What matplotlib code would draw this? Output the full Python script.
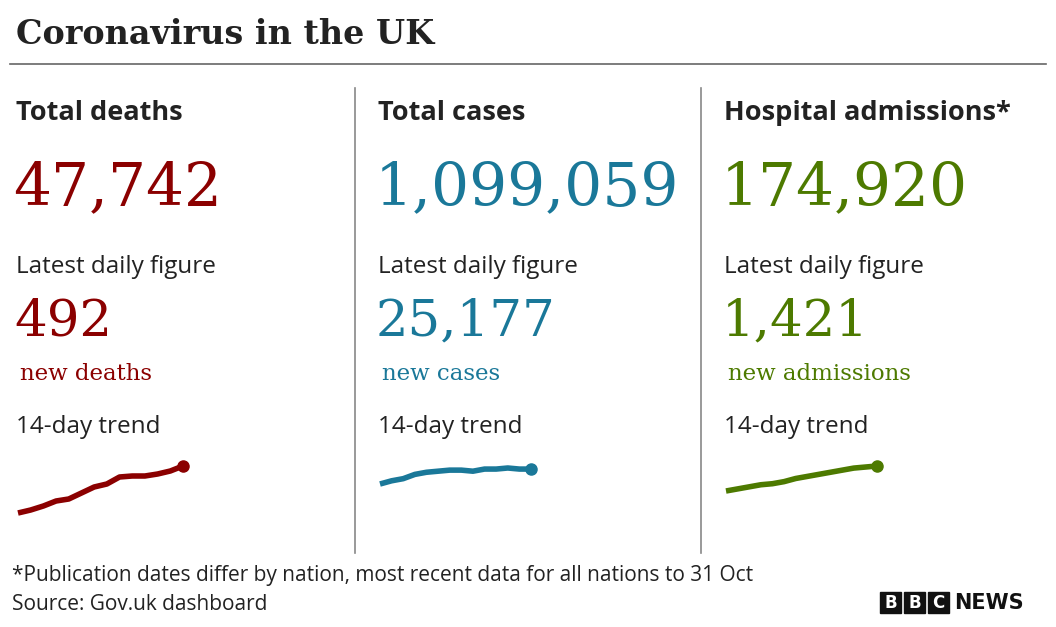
import matplotlib
matplotlib.use("Agg")
import matplotlib.pyplot as plt
from matplotlib.patches import Rectangle

W, H = 1056, 627
sections = ["Total deaths", "Total cases", "Hospital admissions*"]
totals = ["47,742", "1,099,059", "174,920"]
daily = ["492", "25,177", "1,421"]
daily_labels = ["new deaths", "new cases", "new admissions"]
colors = ["#8b0000", "#1a7899", "#4d7a00"]
trend_deaths = [0, 3, 7, 12, 14, 20, 26, 29, 36, 37, 37, 39, 42, 47]
trend_cases = [0, 3, 5, 9, 11, 12, 13, 13, 12, 14, 14, 15, 14, 14]
trend_hosp = [0, 2, 4, 6, 7, 9, 12, 14, 16, 18, 20, 22, 23, 24]
trends = [trend_deaths, trend_cases, trend_hosp]

fig = plt.figure(figsize=(W / 100, H / 100), dpi=100)
ax = fig.add_axes([0, 0, 1, 1])
ax.set_xlim(0, W); ax.set_ylim(H, 0); ax.axis("off")

sans = "Open Sans"
serif = "DejaVu Serif"
ax.text(16, 34, "Coronavirus in the UK", fontsize=24, family=serif, weight="bold",
        va="center", color="#222")
ax.plot([10, 1046], [64, 64], color="#666", lw=1.2)
for x in (355, 701):
    ax.plot([x, x], [88, 553], color="#888", lw=1.2)

xs = [16, 378, 724]
boxes = [(18, 183, 466, 513), (380, 531, 468, 484), (726, 877, 466, 491)]
for i in range(3):
    x = xs[i]
    ax.text(x, 113, sections[i], fontsize=19.5, family=sans, weight="bold", va="center", color="#222")
    ax.text(x - 3, 188, totals[i], fontsize=43, family=serif, va="center", color=colors[i])
    ax.text(x, 267, "Latest daily figure", fontsize=17.5, family=sans, va="center", color="#222")
    ax.text(x - 2, 322, daily[i], fontsize=37, family=serif, va="center", color=colors[i])
    ax.text(x + 4, 374, daily_labels[i], fontsize=16.5, family=serif, va="center", color=colors[i])
    ax.text(x, 427, "14-day trend", fontsize=17.5, family=sans, va="center", color="#222")
    x0, x1, y0, y1 = boxes[i]
    sa = fig.add_axes([x0 / W, 1 - y1 / H, (x1 - x0) / W, (y1 - y0) / H])
    t = trends[i]
    sa.plot(range(len(t)), t, color=colors[i], lw=4, clip_on=False, solid_capstyle="butt")
    sa.plot([len(t) - 1], [t[-1]], "o", color=colors[i], ms=8, clip_on=False)
    sa.set_xlim(0, len(t) - 1); sa.set_ylim(min(t), max(t)); sa.axis("off")

ax.text(12, 575, "*Publication dates differ by nation, most recent data for all nations to 31 Oct",
        fontsize=15, family=sans, va="center", color="#222")
ax.text(12, 604, "Source: Gov.uk dashboard", fontsize=15, family=sans, va="center", color="#222")
for j, ch in enumerate("BBC"):
    bx = 880 + j * 24
    ax.add_patch(Rectangle((bx, 592), 21, 21, color="#111"))
    ax.text(bx + 10.5, 603, ch, fontsize=12, family="DejaVu Sans", weight="bold",
            color="white", ha="center", va="center")
ax.text(954, 603, "NEWS", fontsize=15, family="DejaVu Sans", weight="bold", va="center", color="#111")

fig.savefig("out.png", dpi=100)
